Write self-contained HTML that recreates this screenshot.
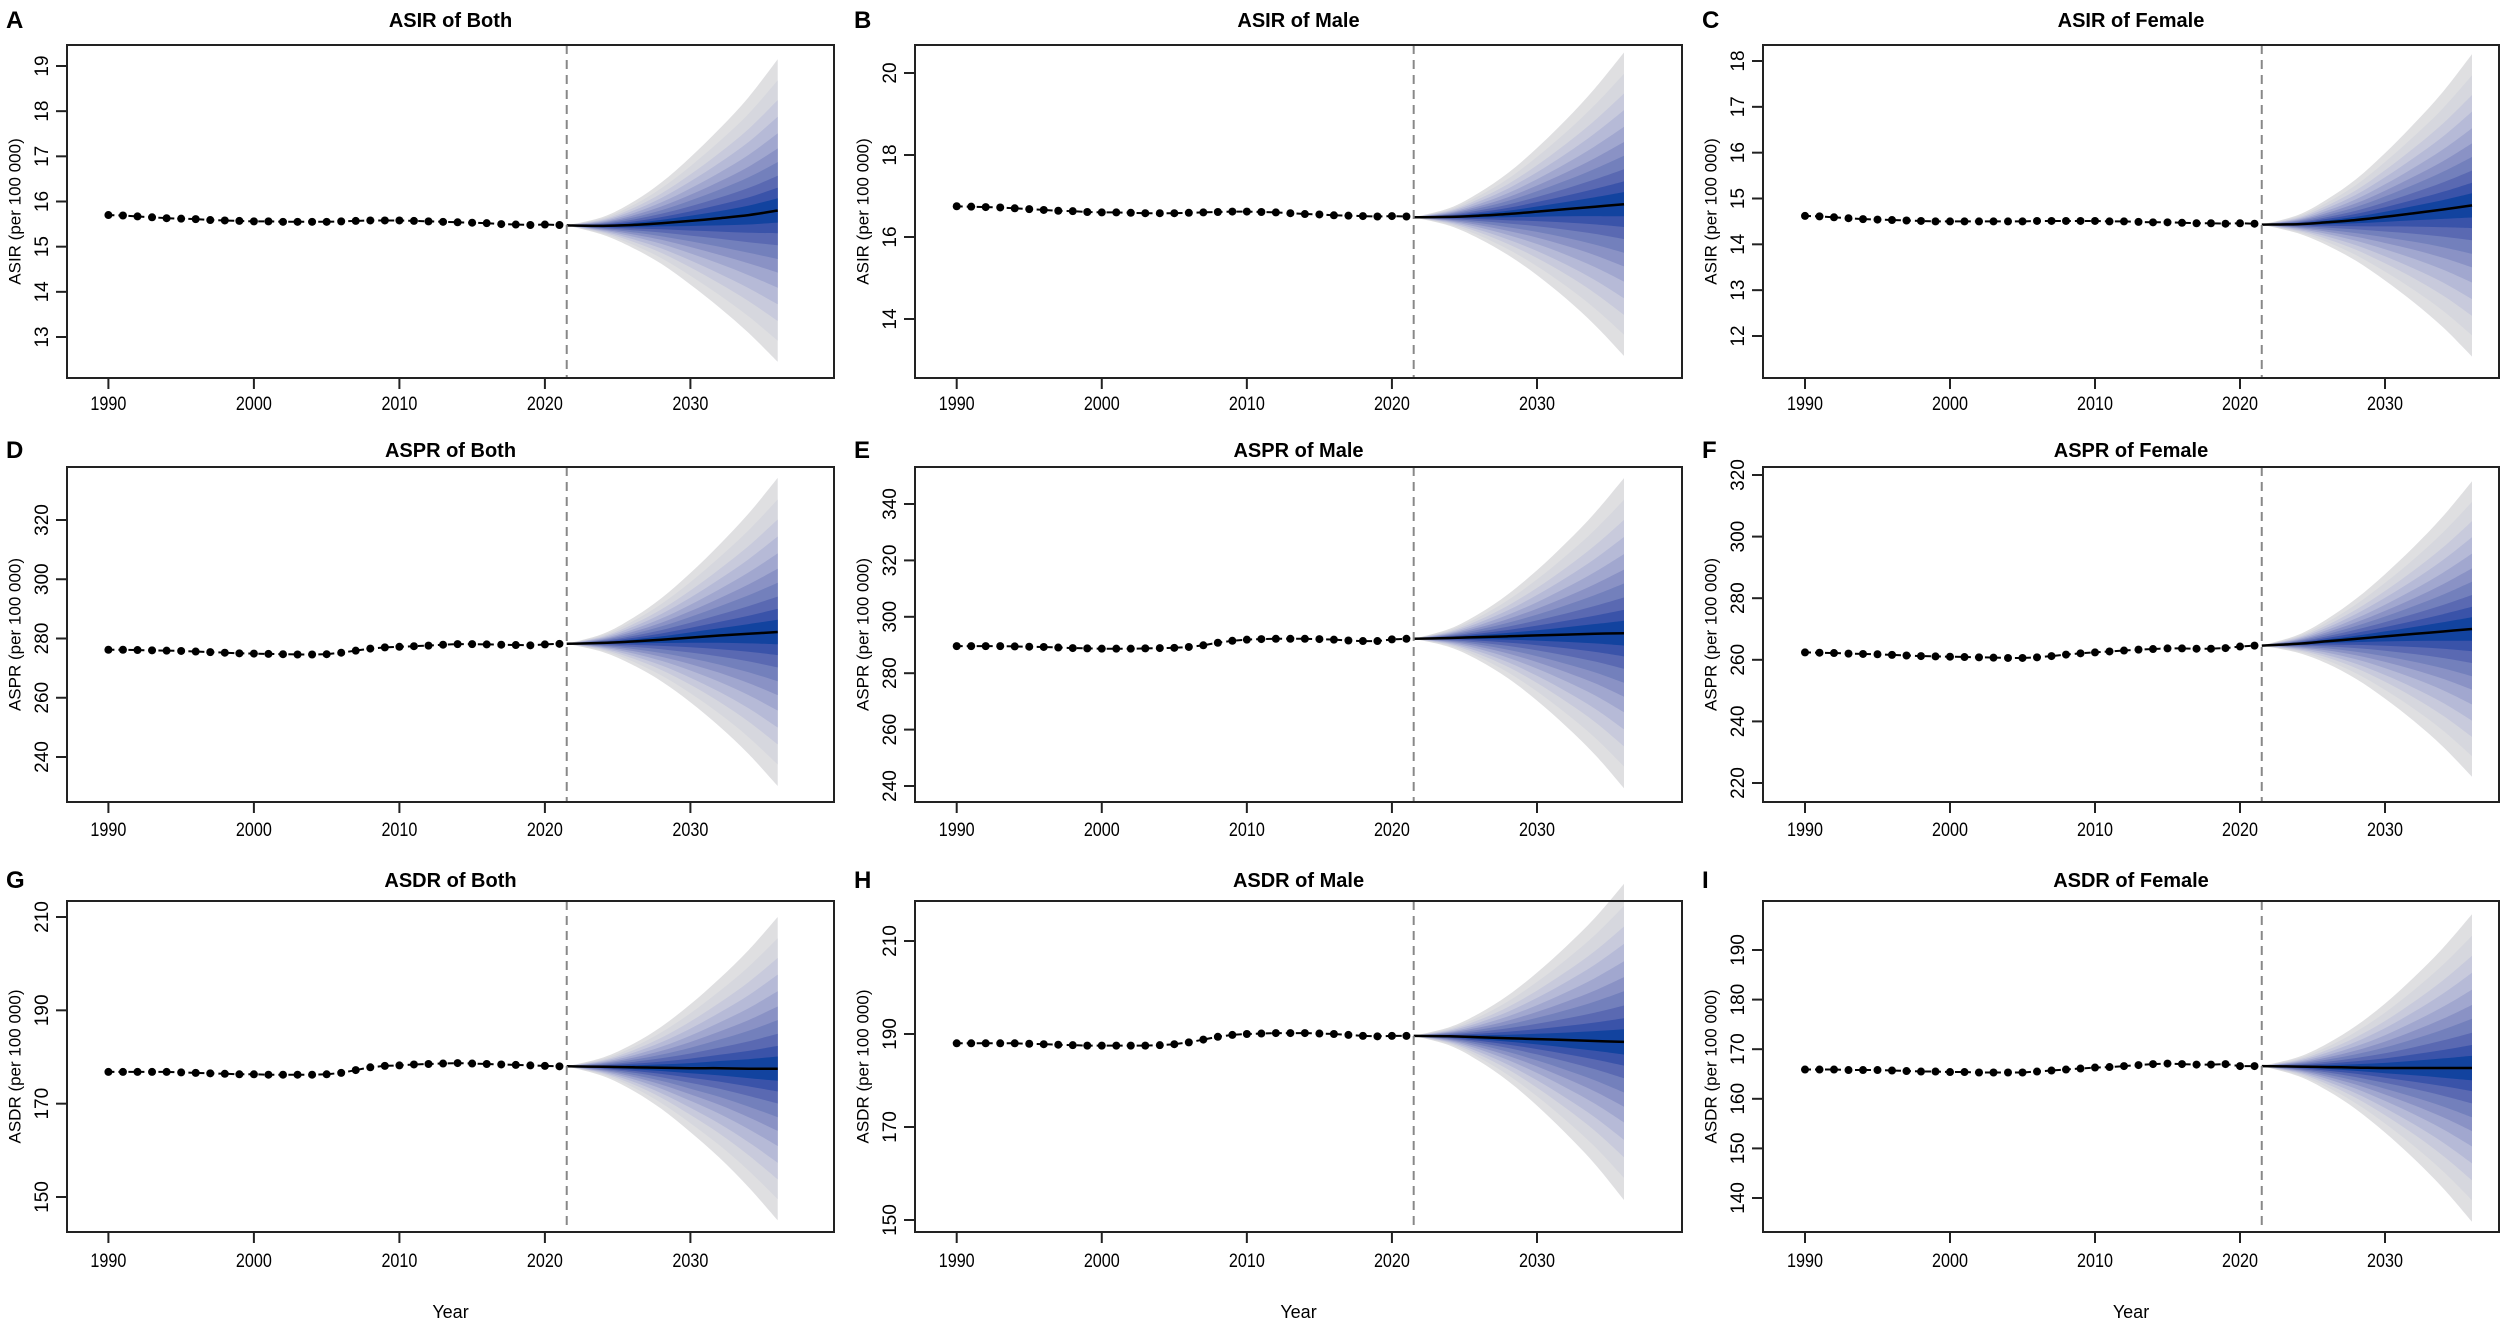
<!DOCTYPE html>
<html><head><meta charset="utf-8"><style>
html,body{margin:0;padding:0;background:#fff;}
svg{display:block;font-family:"Liberation Sans",Arial,sans-serif;}
</style></head><body>
<svg id="fig" width="2500" height="1325" viewBox="0 0 2500 1325" xmlns="http://www.w3.org/2000/svg"></svg>
<script>
const obsYears = [1990,1991,1992,1993,1994,1995,1996,1997,1998,1999,2000,2001,2002,2003,2004,2005,2006,2007,2008,2009,2010,2011,2012,2013,2014,2015,2016,2017,2018,2019,2020,2021];
const fcYears = [2021.5,2024,2026,2028,2030,2032,2034,2036];
const xTicks = [1990,2000,2010,2020,2030];
const bandMult = [1,0.86,0.73,0.62,0.51,0.41,0.32,0.23,0.15,0.08];
const bandColors = ["#dfdfe1","#d6d7de","#c8cadc","#b6bad7","#a1a7cf","#8a92c5","#7380bc","#5a69b2","#3a53a9","#12439f"];

const titles = ["ASIR of Both","ASIR of Male","ASIR of Female","ASPR of Both","ASPR of Male","ASPR of Female","ASDR of Both","ASDR of Male","ASDR of Female"];
const letters = ["A","B","C","D","E","F","G","H","I"];
const yLabels = ["ASIR (per 100 000)","ASIR (per 100 000)","ASIR (per 100 000)","ASPR (per 100 000)","ASPR (per 100 000)","ASPR (per 100 000)","ASDR (per 100 000)","ASDR (per 100 000)","ASDR (per 100 000)"];

const obsA = [15.70,15.69,15.67,15.65,15.63,15.62,15.61,15.59,15.58,15.57,15.56,15.56,15.55,15.55,15.55,15.55,15.56,15.57,15.58,15.58,15.58,15.57,15.56,15.55,15.54,15.53,15.52,15.50,15.49,15.48,15.49,15.48];
const obsB = [16.75,16.74,16.73,16.72,16.70,16.68,16.66,16.64,16.63,16.61,16.60,16.60,16.59,16.58,16.58,16.58,16.59,16.60,16.61,16.62,16.62,16.61,16.60,16.58,16.56,16.55,16.53,16.52,16.51,16.50,16.51,16.50];
const obsC = [14.62,14.61,14.59,14.57,14.55,14.54,14.53,14.52,14.51,14.50,14.50,14.50,14.50,14.50,14.50,14.50,14.51,14.51,14.51,14.51,14.51,14.50,14.50,14.49,14.48,14.48,14.47,14.46,14.46,14.45,14.46,14.45];
const obsD = [276.2,276.2,276.1,276.0,275.9,275.8,275.6,275.4,275.2,275.0,274.9,274.8,274.7,274.6,274.6,274.7,275.2,275.9,276.6,277.0,277.2,277.4,277.6,277.9,278.1,278.1,278.0,277.9,277.8,277.7,278.0,278.2];
const obsE = [289.6,289.6,289.6,289.6,289.5,289.4,289.3,289.1,288.9,288.8,288.7,288.7,288.7,288.8,288.9,289.0,289.3,289.9,290.8,291.5,291.9,292.1,292.2,292.2,292.2,292.1,291.9,291.6,291.4,291.4,292.0,292.2];
const obsF = [262.4,262.3,262.2,262.0,261.9,261.8,261.6,261.4,261.2,261.1,261.0,260.9,260.8,260.7,260.6,260.6,260.8,261.2,261.7,262.1,262.4,262.7,263.0,263.3,263.5,263.7,263.7,263.6,263.6,263.8,264.3,264.6];
const obsG = [176.8,176.8,176.8,176.8,176.8,176.7,176.6,176.5,176.4,176.3,176.3,176.2,176.2,176.2,176.2,176.3,176.6,177.2,177.8,178.1,178.2,178.4,178.5,178.6,178.7,178.6,178.5,178.4,178.3,178.2,178.1,178.0];
const obsH = [188.0,188.0,188.0,188.0,188.0,187.9,187.8,187.7,187.6,187.5,187.5,187.5,187.5,187.5,187.6,187.8,188.2,188.8,189.4,189.8,190.0,190.1,190.2,190.2,190.2,190.1,190.0,189.8,189.6,189.5,189.6,189.6];
const obsI = [165.9,165.9,165.9,165.8,165.8,165.8,165.7,165.6,165.5,165.5,165.4,165.4,165.3,165.3,165.3,165.3,165.5,165.7,165.9,166.1,166.3,166.4,166.6,166.8,167.0,167.1,167.0,166.9,166.9,167.0,166.6,166.6];

const meanA = [15.47,15.46,15.48,15.52,15.57,15.63,15.70,15.80];
const meanB = [16.48,16.49,16.52,16.56,16.62,16.68,16.74,16.80];
const meanC = [14.43,14.44,14.48,14.53,14.60,14.68,14.76,14.85];
const meanD = [278.2,278.5,279.0,279.6,280.3,281.0,281.6,282.2];
const meanE = [292.2,292.5,292.8,293.1,293.4,293.7,294.0,294.2];
const meanF = [264.6,265.2,266.0,266.8,267.6,268.4,269.2,270.0];
const meanG = [178.0,177.9,177.8,177.7,177.6,177.6,177.5,177.5];
const meanH = [189.6,189.5,189.3,189.1,188.9,188.7,188.5,188.3];
const meanI = [166.6,166.5,166.4,166.3,166.2,166.2,166.2,166.2];

const hwA = [0,0.20,0.50,0.90,1.41,1.98,2.61,3.35];
const hwB = [0,0.22,0.56,1.00,1.55,2.18,2.89,3.70];
const hwC = [0,0.20,0.50,0.89,1.39,1.95,2.57,3.30];
const hwD = [0,3.1,7.8,14.0,21.8,30.7,40.6,52.0];
const hwE = [0,3.3,8.3,14.9,23.1,32.5,42.9,55.0];
const hwF = [0,2.9,7.2,13.0,20.2,28.3,37.4,48.0];
const hwG = [0,2.0,4.9,8.8,13.7,19.2,25.4,32.5];
const hwH = [0,2.0,5.1,9.2,14.3,20.1,26.5,34.0];
const hwI = [0,1.9,4.7,8.4,13.0,18.3,24.2,31.0];

const yTicksA = [13,14,15,16,17,18,19];
const yTicksB = [14,16,18,20];
const yTicksC = [12,13,14,15,16,17,18];
const yTicksD = [240,260,280,300,320];
const yTicksE = [240,260,280,300,320,340];
const yTicksF = [220,240,260,280,300,320];
const yTicksG = [150,170,190,210];
const yTicksH = [150,170,190,210];
const yTicksI = [140,150,160,170,180,190];

const obsAll = [obsA,obsB,obsC,obsD,obsE,obsF,obsG,obsH,obsI];
const meanAll = [meanA,meanB,meanC,meanD,meanE,meanF,meanG,meanH,meanI];
const hwAll = [hwA,hwB,hwC,hwD,hwE,hwF,hwG,hwH,hwI];
const yTicksAll = [yTicksA,yTicksB,yTicksC,yTicksD,yTicksE,yTicksF,yTicksG,yTicksH,yTicksI];

// layout (not data)
const colBox = [[67,834],[915,1682],[1763,2499]];
const colX = [[108.4,690.4],[956.7,1537],[1805,2385]];
const colYLab = [16,864,1712];
const colTickLab = [48,896,1744];
const rowBox = [[45,378],[467,802],[901,1232]];
const rowTitle = [24,454,884];
const rowXLab = [410,836,1267];
const yCal = [[19,66,13,337],[20,73,14,319],[18,61,12,336],[320,520,240,757],[340,504,240,786],[320,475,220,783],[210,917,150,1197],[210,941,150,1220],[190,950,140,1198]];

const NS = "http://www.w3.org/2000/svg";
const svg = document.getElementById('fig');
function mk(tag, attrs, parent){ const e=document.createElementNS(NS,tag); for(const k in attrs) e.setAttribute(k,attrs[k]); (parent||svg).appendChild(e); return e; }
function smoothPath(pts, move){
  let d=(move?'M':'L')+pts[0][0].toFixed(1)+','+pts[0][1].toFixed(1);
  for(let i=0;i<pts.length-1;i++){
    const p0=pts[Math.max(i-1,0)],p1=pts[i],p2=pts[i+1],p3=pts[Math.min(i+2,pts.length-1)];
    const c1=[p1[0]+(p2[0]-p0[0])/6,p1[1]+(p2[1]-p0[1])/6];
    const c2=[p2[0]-(p3[0]-p1[0])/6,p2[1]-(p3[1]-p1[1])/6];
    d+='C'+c1[0].toFixed(1)+','+c1[1].toFixed(1)+' '+c2[0].toFixed(1)+','+c2[1].toFixed(1)+' '+p2[0].toFixed(1)+','+p2[1].toFixed(1);
  }
  return d;
}

for(let p=0;p<9;p++){
  const c=p%3, r=Math.floor(p/3);
  const [bx0,bx1]=colBox[c], [by0,by1]=rowBox[r];
  const xs = v => colX[c][0] + (v-1990)*(colX[c][1]-colX[c][0])/40;
  const cal=yCal[p];
  const ys = v => cal[1] + (v-cal[0])*(cal[3]-cal[1])/(cal[2]-cal[0]);
  const g = mk('g',{});
  
  

  const let_ = mk('text',{x:colYLab[c]-10,y:rowTitle[r]+4,'font-size':24,'font-weight':'bold'},g);
  let_.textContent=letters[p];
  
  

  const t = mk('text',{x:(bx0+bx1)/2,y:rowTitle[r]+3,'font-size':20,'font-weight':'bold','text-anchor':'middle'},g);
  t.textContent=titles[p];
  
  

  const mean=meanAll[p], hw=hwAll[p];
  for(let b=0;b<bandMult.length;b++){
    const up=fcYears.map((y,i)=>[xs(y),ys(mean[i]+hw[i]*bandMult[b])]);
    const lo=fcYears.map((y,i)=>[xs(y),ys(mean[i]-hw[i]*bandMult[b])]).reverse();
    const d=smoothPath(up,true)+smoothPath(lo,false)+'Z';
    const band=mk('path',{d:d,fill:bandColors[b],stroke:'none'},g);
    
    
  }
  const md=smoothPath(fcYears.map((y,i)=>[xs(y),ys(mean[i])]),true);
  const ml=mk('path',{d:md,fill:'none',stroke:'#000','stroke-width':2.5},g);
  
  

  const vl=mk('line',{x1:xs(2021.5),x2:xs(2021.5),y1:by0,y2:by1,stroke:'#888','stroke-width':2,'stroke-dasharray':'9,6'},g);
  
  

  const obs=obsAll[p];
  let od='';
  for(let i=0;i<obs.length;i++) od+=(i?'L':'M')+xs(obsYears[i]).toFixed(1)+','+ys(obs[i]).toFixed(1);
  const ol=mk('path',{d:od,fill:'none',stroke:'#000','stroke-width':2,'stroke-dasharray':'6,4'},g);
  
  
  for(let i=0;i<obs.length;i++){
    const pt=mk('circle',{cx:xs(obsYears[i]),cy:ys(obs[i]),r:4,fill:'#000'},g);
    
    
  }

  const box=mk('rect',{x:bx0,y:by0,width:bx1-bx0,height:by1-by0,fill:'none',stroke:'#222','stroke-width':2},g);
  
  

  for(const v of xTicks){
    const X=xs(v);
    mk('line',{x1:X,x2:X,y1:by1,y2:by1+11,stroke:'#222','stroke-width':2},g);
    const tl=mk('text',{x:X,y:rowXLab[r],'font-size':19,'text-anchor':'middle',transform:`translate(${X},0) scale(0.85,1) translate(${-X},0)`},g);
    tl.textContent=v;
    
    
  }
  for(const v of yTicksAll[p]){
    const Y=ys(v);
    mk('line',{x1:bx0-11,x2:bx0,y1:Y,y2:Y,stroke:'#222','stroke-width':2},g);
    const tl=mk('text',{x:colTickLab[c],y:Y,'font-size':19,'text-anchor':'middle',transform:`rotate(-90 ${colTickLab[c]} ${Y})`},g);
    tl.textContent=v;
    
    
  }
  const yl=mk('text',{x:colYLab[c],y:(by0+by1)/2,'font-size':17,'text-anchor':'middle','dominant-baseline':'middle',transform:`rotate(-90 ${colYLab[c]} ${(by0+by1)/2})`},g);
  yl.textContent=yLabels[p];
  
  

  if(r===2){
    const xl=mk('text',{x:(bx0+bx1)/2,y:1318,'font-size':18,'text-anchor':'middle'},g);
    xl.textContent='Year';
    
    
  }
}
</script>
</body></html>
